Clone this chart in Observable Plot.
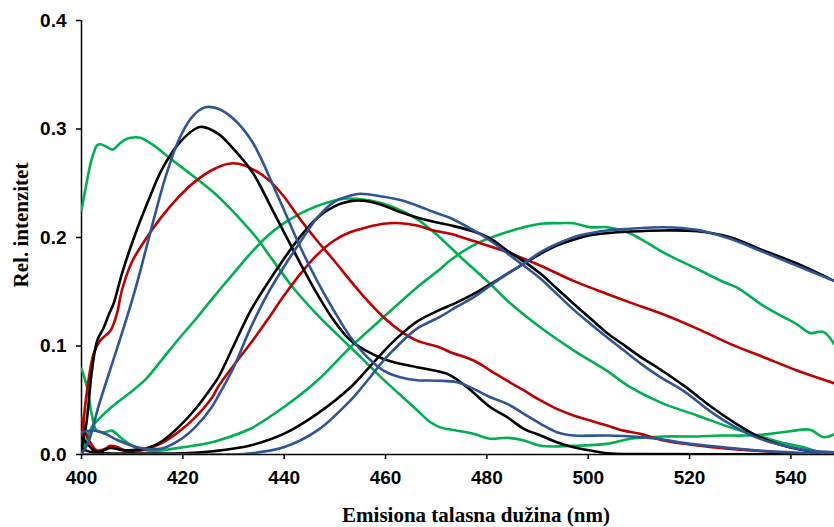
<!DOCTYPE html>
<html>
<head>
<meta charset="utf-8">
<script src="https://cdn.jsdelivr.net/npm/d3@7"></script>
<script src="https://cdn.jsdelivr.net/npm/@observablehq/plot@0.6"></script>
<style>
  html, body { margin: 0; padding: 0; background: #ffffff; }
  #chart { width: 834px; height: 527px; }
</style>
</head>
<body>
<div id="chart"></div>
<script>
// ---- Data ----
const xTicks = [400, 420, 440, 460, 480, 500, 520, 540];
const yTicks = [0, 0.1, 0.2, 0.3, 0.4];
const xTitle = "Emisiona talasna dužina (nm)";
const yTitle = "Rel. intenzitet";

// each series: [wavelength nm, relative intensity]
const green1 = [[400,0.225],[401,0.25],[402,0.272],[403.1,0.285],[403.7,0.286],[404.8,0.284],[406.1,0.281],[407.4,0.286],[408.5,0.290],[409.7,0.292],[411.6,0.292],[413.9,0.286],[417.2,0.274],[421.1,0.260],[425.7,0.243],[429.7,0.225],[433.3,0.2065],[435,0.197],[437.3,0.182],[441.9,0.153],[446.5,0.129],[451.7,0.105],[455.7,0.087],[459.6,0.069],[462.9,0.055],[466.2,0.041],[468.8,0.030],[470.8,0.025],[472.8,0.023],[477.4,0.019],[480.7,0.0145],[484,0.0154],[487.3,0.013],[490.6,0.008],[497.1,0.008],[503.7,0.0098],[508.3,0.0145],[514.9,0.0166],[521.5,0.0166],[526.1,0.0175],[531.3,0.0175],[535.9,0.019],[539.9,0.0215],[543.8,0.0228],[546.4,0.016],[548.5,0.0184]];
const green2 = [[400,0.0],[401,0.014],[402,0.025],[403.5,0.033],[406,0.044],[409.3,0.056],[412.6,0.069],[415.8,0.087],[419.1,0.106],[422.4,0.124],[425.7,0.143],[430,0.167],[433.3,0.185],[436.6,0.201],[439.9,0.213],[443.2,0.222],[446.5,0.229],[451.7,0.2357],[457,0.234],[461.6,0.228],[466.2,0.217],[470.5,0.201],[474.8,0.182],[480.7,0.157],[484,0.142],[490.6,0.117],[497.1,0.096],[503.7,0.077],[508.3,0.062],[514.9,0.0467],[521.5,0.036],[528,0.025],[533.3,0.0175],[537.9,0.0113],[542.5,0.0067],[545.8,0.002],[548.5,0.001]];
const green3 = [[400,0.079],[401.1,0.062],[402,0.0375],[403,0.022],[404.7,0.0206],[406,0.022],[408,0.0145],[410.6,0.0067],[413.9,0.003],[417.8,0.0052],[422.4,0.0083],[427,0.013],[433.3,0.0237],[439.9,0.0436],[446.5,0.068],[453.1,0.099],[459.6,0.1265],[466.2,0.154],[470.8,0.171],[472.8,0.179],[477.4,0.193],[484,0.205],[490.6,0.2126],[494.5,0.2132],[497.1,0.2132],[500.4,0.2095],[503.7,0.2095],[507.6,0.205],[510.3,0.1988],[514.9,0.186],[521.5,0.171],[526.7,0.159],[529.3,0.154],[534.6,0.137],[538.6,0.1265],[541.2,0.120],[543.8,0.112],[546.4,0.113],[548.5,0.102]];
const red1 = [[400,0.01],[401.1,0.059],[402.4,0.093],[403.7,0.105],[405.7,0.114],[407,0.13],[407.9,0.15],[409.9,0.177],[412.6,0.198],[415.8,0.219],[419.1,0.237],[422.4,0.2515],[425.7,0.262],[429,0.268],[431,0.268],[434.9,0.260],[437.3,0.2515],[439.9,0.238],[443.2,0.2165],[446.5,0.197],[449.8,0.179],[453.1,0.160],[456.4,0.142],[459.6,0.1265],[462.9,0.114],[466.2,0.105],[470.5,0.099],[472.8,0.0943],[477.4,0.0866],[480.7,0.0774],[484,0.068],[487.3,0.059],[490.6,0.0498],[493.8,0.042],[497.1,0.036],[500.4,0.0313],[503.7,0.0267],[507,0.022],[510.3,0.019],[514.9,0.0129],[521.5,0.0083],[528,0.0052],[534.6,0.003],[541,0.001],[548.5,0.0]];
const red2 = [[400,0.034],[400.7,0.022],[401.5,0.013],[403,0.004],[404.5,0.005],[405.7,0.008],[407,0.007],[408.5,0.004],[411,0.003],[413.5,0.006],[416,0.011],[419.1,0.0206],[422.4,0.034],[425.7,0.052],[427,0.0626],[430,0.082],[433.3,0.102],[436.6,0.1235],[439.9,0.146],[443.2,0.1665],[446.5,0.184],[449.8,0.197],[453.1,0.205],[456.4,0.2095],[459.6,0.2126],[462.9,0.2132],[466.2,0.211],[469.5,0.2065],[472.8,0.2034],[477.4,0.1967],[484,0.1865],[490.6,0.174],[497.1,0.160],[503.7,0.148],[508.3,0.140],[514.9,0.129],[521.5,0.116],[528,0.102],[534.6,0.0897],[541.2,0.0774],[548.5,0.0657]];
const black1 = [[400,0.004],[401,0.03],[402,0.075],[403.1,0.105],[404.4,0.117],[405.3,0.128],[406.4,0.140],[408,0.167],[410.6,0.203],[413.2,0.234],[415.8,0.262],[419.1,0.286],[422.4,0.300],[423.7,0.302],[427,0.2955],[430.3,0.280],[433.6,0.261],[435,0.250],[437.3,0.229],[439.9,0.2055],[443.2,0.176],[446.5,0.148],[449.8,0.1235],[453.1,0.105],[456.4,0.095],[459.6,0.088],[462.9,0.0836],[466.2,0.0805],[470.5,0.0765],[472.8,0.073],[476.1,0.062],[480.7,0.0436],[484,0.0344],[487.3,0.0237],[490.6,0.0175],[493.8,0.0113],[497.1,0.0067],[500.4,0.0037],[503.7,0.0012],[510,0.0003],[548.5,0.0003]];
const black2 = [[400,0.016],[401.5,0.008],[403,0.002],[405.7,0.006],[408,0.004],[410,0.004],[413,0.006],[415.8,0.012],[419.1,0.025],[422.4,0.0415],[425.7,0.062],[427,0.071],[430,0.1],[433.3,0.132],[436.6,0.157],[439.9,0.180],[443.2,0.201],[446.5,0.218],[449.8,0.2285],[453.1,0.2335],[455.7,0.2338],[459.6,0.2295],[462.9,0.2235],[466.2,0.2185],[469.5,0.2145],[473,0.211],[477.4,0.2055],[480.7,0.199],[484,0.188],[487.3,0.178],[490.6,0.1665],[493.8,0.153],[497.1,0.139],[500.4,0.1255],[503.7,0.112],[507,0.101],[510.3,0.090],[514,0.079],[519,0.063],[524,0.045],[528,0.032],[533,0.018],[537.9,0.009],[542.5,0.004],[548.5,0.001]];
const black3 = [[400,0.006],[402,0.002],[410,0.001],[420,0.001],[426,0.003],[433.3,0.0083],[439.9,0.019],[446.5,0.0375],[453.1,0.062],[456.4,0.0784],[459.6,0.0949],[462.9,0.110],[466.2,0.1225],[470.8,0.1335],[474,0.140],[477.4,0.148],[480.7,0.157],[484,0.1665],[487.3,0.176],[490.6,0.185],[493.8,0.1926],[497.1,0.198],[500.4,0.202],[503.7,0.204],[508.3,0.2055],[514.9,0.2065],[521.5,0.2058],[528,0.2003],[534.6,0.188],[541.2,0.176],[548.5,0.160]];
const blue1 = [[400,0.0],[401.4,0.012],[403.4,0.045],[406,0.083],[408,0.112],[410.6,0.152],[412.6,0.187],[414.5,0.221],[416.5,0.2545],[419.1,0.289],[421.8,0.311],[424.4,0.320],[427,0.3186],[430.3,0.308],[433.6,0.289],[435,0.277],[437.3,0.2535],[439.9,0.226],[443.2,0.191],[446.5,0.160],[449.8,0.1327],[453.1,0.108],[456.4,0.0897],[459.6,0.0774],[462.9,0.0712],[466.2,0.0685],[470.2,0.068],[474.1,0.0666],[477.4,0.0605],[480.7,0.0528],[484,0.0467],[487.3,0.0375],[490.6,0.0283],[493.8,0.0206],[497.1,0.0175],[503.7,0.0175],[510.3,0.016],[513.6,0.0145],[520.1,0.0098],[526.7,0.0067],[533.3,0.0037],[539.9,0.002],[548.5,0.0]];
const blue2 = [[400,0.0206],[402.7,0.022],[404.7,0.019],[407.3,0.0129],[409.9,0.0083],[412.6,0.0052],[415.8,0.0055],[419.1,0.0125],[422.4,0.025],[425.7,0.0436],[427,0.054],[430,0.08],[433.3,0.116],[436.6,0.147],[439.9,0.1726],[443.2,0.196],[446.5,0.218],[449.8,0.2326],[453.1,0.2387],[455,0.2403],[459.6,0.2375],[462.9,0.2345],[466.2,0.2295],[469.5,0.2235],[472.8,0.218],[477.4,0.2065],[480.7,0.197],[484,0.1855],[487.3,0.174],[490.6,0.162],[493.8,0.148],[497.1,0.1335],[500.4,0.1205],[503.7,0.108],[507,0.096],[510.3,0.084],[514,0.072],[519,0.058],[524,0.040],[528,0.028],[533,0.016],[537.9,0.009],[543,0.004],[548.5,0.002]];
const blue3 = [[400,0.0],[420,0.0],[430,0.0],[433.3,0.001],[439.9,0.0067],[446.5,0.022],[453.1,0.05],[456.4,0.068],[459.6,0.0866],[462.9,0.1025],[466.2,0.116],[470.8,0.127],[474,0.136],[477.4,0.145],[480.7,0.1558],[484,0.1665],[487.3,0.176],[490.6,0.1865],[493.8,0.194],[497.1,0.2003],[500.4,0.204],[503.7,0.2065],[508.3,0.208],[514.9,0.2095],[521.5,0.207],[528,0.1988],[534.6,0.1865],[541.2,0.174],[548.5,0.160]];

const colors = { green: "#00B050", red: "#C00000", black: "#000000", blue: "#2F5597" };

// drawing order: green, red, black, blue
const seriesList = [
  { name: "green1", color: colors.green, points: green1 },
  { name: "green2", color: colors.green, points: green2 },
  { name: "green3", color: colors.green, points: green3 },
  { name: "red1", color: colors.red, points: red1 },
  { name: "red2", color: colors.red, points: red2 },
  { name: "black1", color: colors.black, points: black1 },
  { name: "black2", color: colors.black, points: black2 },
  { name: "black3", color: colors.black, points: black3 },
  { name: "blue1", color: colors.blue, points: blue1 },
  { name: "blue2", color: colors.blue, points: blue2 },
  { name: "blue3", color: colors.blue, points: blue3 }
];
const rows = seriesList.flatMap(s => s.points.map(([x, y]) => ({ series: s.name, color: s.color, x, y })));

const chart = Plot.plot({
  width: 834,
  height: 527,
  marginLeft: 81,
  marginRight: 0,
  marginTop: 20,
  marginBottom: 73,
  style: { fontFamily: "'Liberation Sans', Arial, sans-serif", fontSize: "19px", fontWeight: "bold", background: "#ffffff", color: "#000000" },
  x: { domain: [400, 548.6] },
  y: { domain: [0, 0.4] },
  marks: [
    Plot.axisX({ ticks: xTicks, tickSize: 5, tickPadding: 11, tickFormat: d => String(d), label: null, strokeWidth: 1.5 }),
    Plot.axisY({ ticks: yTicks, tickSize: 5, tickPadding: 10, tickFormat: d3.format(".1f"), label: null, strokeWidth: 1.5 }),
    Plot.ruleX([400], { strokeWidth: 1.5 }),
    Plot.ruleY([0], { strokeWidth: 1.5 }),
    Plot.line(rows, { x: "x", y: "y", z: "series", stroke: "color", strokeWidth: 2.6, curve: "catmull-rom", clip: true })
  ]
});
document.getElementById("chart").appendChild(chart);

const svg = d3.select(chart);
svg.append("text")
  .attr("x", 476).attr("y", 522)
  .attr("text-anchor", "middle")
  .style("font-family", "'Liberation Serif', 'Times New Roman', serif")
  .style("font-size", "21px").style("font-weight", "bold")
  .text(xTitle);
svg.append("text")
  .attr("transform", "translate(28,225) rotate(-90)")
  .attr("text-anchor", "middle")
  .style("font-family", "'Liberation Serif', 'Times New Roman', serif")
  .style("font-size", "21px").style("font-weight", "bold")
  .text(yTitle);
</script>
</body>
</html>
